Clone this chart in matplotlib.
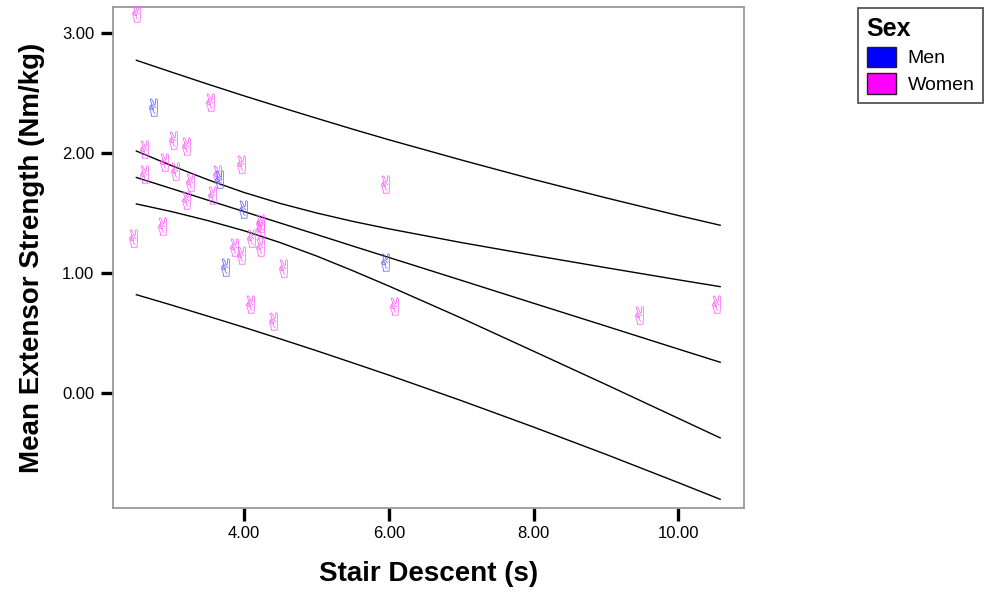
import matplotlib
matplotlib.use('Agg')
from matplotlib import pyplot as plt
from matplotlib.patches import Patch

# scatter points
women_x = [2.50, 3.53, 3.01, 3.20, 2.62, 3.95, 2.89, 3.04, 2.62, 3.62, 3.25, 3.55, 3.20,
           2.86, 4.22, 4.22, 4.10, 2.46, 3.86, 4.22, 3.95, 4.53, 5.95, 4.08, 6.07, 4.40,
           9.46, 10.52]
women_y = [3.16, 2.42, 2.11, 2.06, 2.03, 1.91, 1.92, 1.85, 1.82, 1.82, 1.76, 1.65, 1.61,
           1.39, 1.42, 1.37, 1.29, 1.29, 1.22, 1.22, 1.15, 1.04, 1.74, 0.74, 0.73, 0.60,
           0.65, 0.74]
men_x = [2.74, 3.65, 3.98, 3.74, 5.95]
men_y = [2.38, 1.78, 1.53, 1.05, 1.09]

# fit line with confidence / prediction bands, read at these x positions
line_x   = [2.51, 3, 3.5, 4, 4.5, 5, 5.5, 6, 7, 8, 9, 10, 10.58]
pi_upper = [2.770, 2.671, 2.571, 2.474, 2.380, 2.288, 2.197, 2.109, 1.941, 1.779, 1.626, 1.479, 1.398]
ci_upper = [2.015, 1.893, 1.776, 1.670, 1.579, 1.500, 1.430, 1.368, 1.254, 1.148, 1.045, 0.944, 0.887]
fit_line = [1.795, 1.702, 1.606, 1.511, 1.416, 1.321, 1.225, 1.130, 0.940, 0.749, 0.559, 0.368, 0.258]
ci_lower = [1.575, 1.511, 1.436, 1.352, 1.253, 1.142, 1.020, 0.892, 0.626, 0.350, 0.073, -0.208, -0.371]
pi_lower = [0.820, 0.733, 0.641, 0.548, 0.452, 0.354, 0.253, 0.151, -0.061, -0.281, -0.508, -0.743, -0.882]

x_ticks = [4, 6, 8, 10]
y_ticks = [0, 1, 2, 3]

plt.rcParams['font.family'] = ['Liberation Sans', 'DejaVu Sans']

fig = plt.figure(figsize=(9.94, 5.92), dpi=100)
ax = fig.add_axes([0.1132, 0.1414, 0.6353, 0.8473])

for ys in [pi_upper, ci_upper, fit_line, ci_lower, pi_lower]:
    ax.plot(line_x, ys, color='black', linewidth=1.0)

ax.scatter(women_x, women_y, marker='$✌$', s=170, color='#ff55ff', linewidths=0, zorder=3)
ax.scatter(men_x, men_y, marker='$✌$', s=170, color='#5c5cff', linewidths=0, zorder=3)

ax.set_xlim(2.18, 10.91)
ax.set_ylim(-0.957, 3.216)
ax.set_xticks(x_ticks)
ax.set_xticklabels(['%.2f' % v for v in x_ticks])
ax.set_yticks(y_ticks)
ax.set_yticklabels(['%.2f' % v for v in y_ticks])
ax.tick_params(length=9, width=2.4, color='black', labelsize=12, pad=4)

for s in ax.spines.values():
    s.set_color('#999999')
    s.set_linewidth(1.3)

ax.set_xlabel('Stair Descent (s)', fontsize=20, fontweight='bold', labelpad=14)
ax.set_ylabel('Mean Extensor Strength (Nm/kg)', fontsize=20, fontweight='bold', labelpad=12)

handles = [Patch(facecolor='#0000ff', edgecolor='#222222', label='Men'),
           Patch(facecolor='#ff00ff', edgecolor='#222222', label='Women')]
leg = fig.legend(handles=handles, title='Sex', loc='upper left',
                 bbox_to_anchor=(858 / 994, 1 - 8 / 592), fontsize=14,
                 title_fontproperties={'weight': 'bold', 'size': 18},
                 fancybox=False, framealpha=1, edgecolor='#555555',
                 handlelength=1.5, handleheight=1.25, handletextpad=0.6,
                 labelspacing=0.3, borderpad=0.45, borderaxespad=0,
                 alignment='left')
leg.get_frame().set_linewidth(1.3)

plt.savefig('out.png', dpi=100)
